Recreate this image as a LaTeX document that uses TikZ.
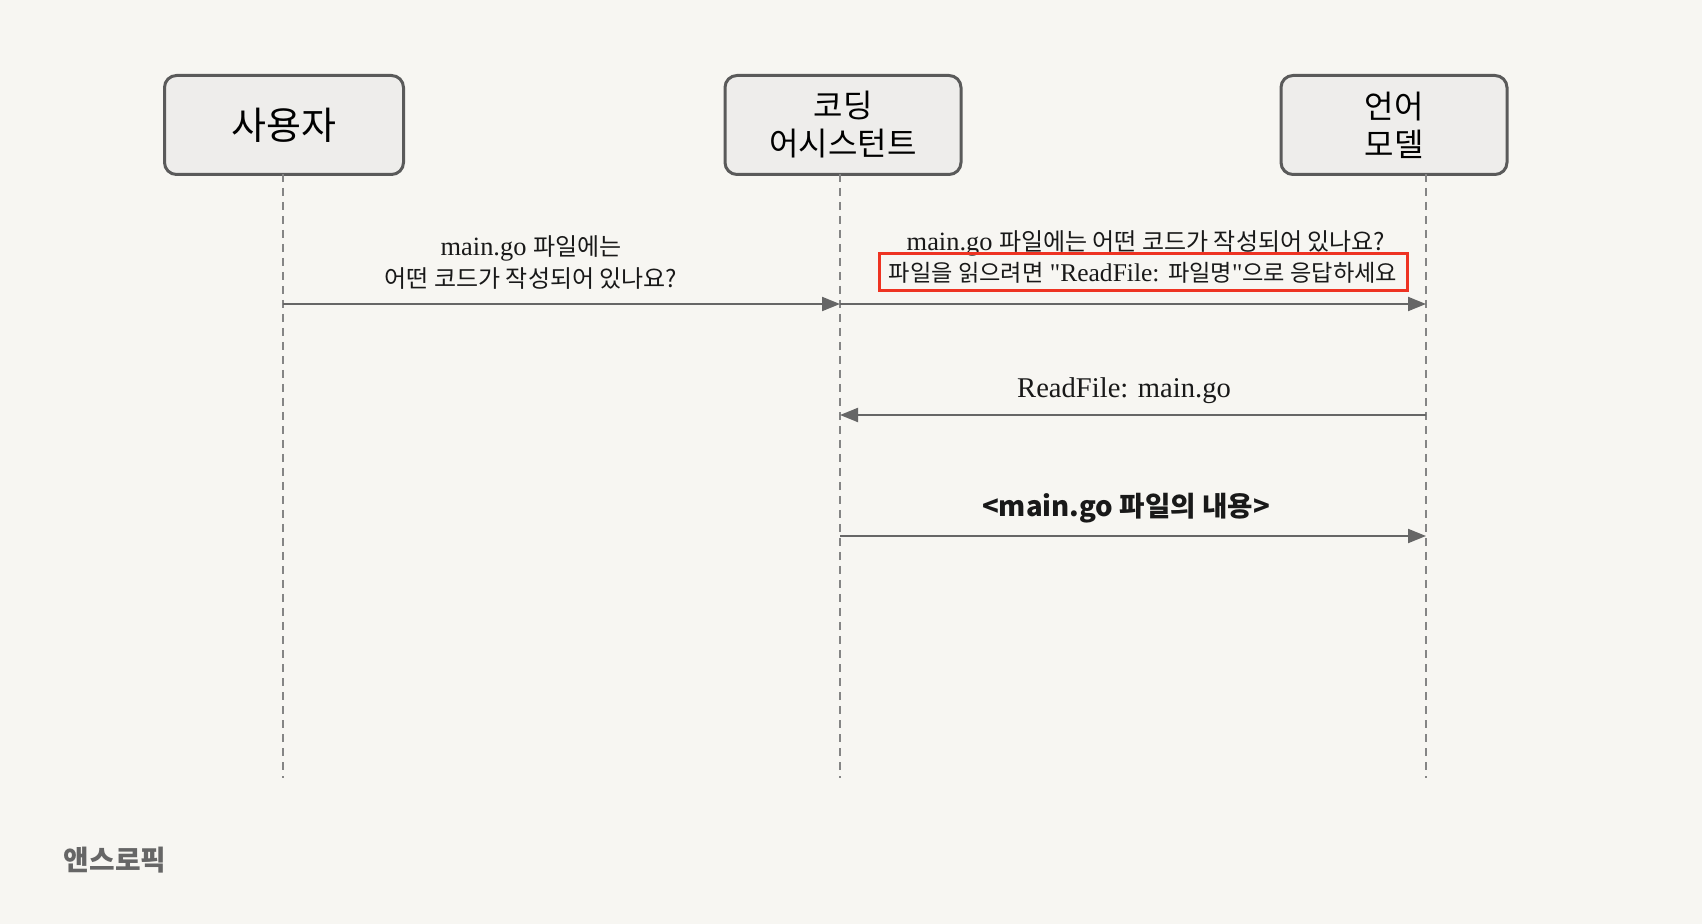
\documentclass[tikz,border=0pt]{standalone}
\usepackage{fontspec}
\usepackage{tikz}
\usetikzlibrary{arrows.meta}
\setmainfont[Scale=1.1]{Liberation Serif}
\newfontfamily\kr{Noto Sans CJK KR}

\definecolor{paper}{HTML}{F7F6F2}
\definecolor{boxfill}{HTML}{EEEDEB}
\definecolor{boxline}{HTML}{5A5A5A}
\definecolor{msgline}{HTML}{666666}
\definecolor{hilite}{HTML}{EE3322}

\begin{document}
\begin{tikzpicture}[x=0.5pt, y=-0.5pt, semithick]
  \tikzstyle{actor}=[fill=boxfill,draw=boxline,line width=1.5pt,rounded corners=6pt,text=black,align=center,inner sep=0pt]
  \tikzstyle{lifeline}=[draw=msgline!80,line width=0.6pt,dash pattern=on 4pt off 3pt]
  \tikzstyle{msg}=[-{Triangle[length=9pt,width=7pt]},draw=msgline,line width=1pt]
  \tikzstyle{label}=[text=black!90,align=center,inner sep=0pt,font=\fontsize{12}{16}\selectfont]

  \useasboundingbox[fill=paper] (0,0) rectangle (1702,924);

  % actors
  \node[actor,minimum width=119.5pt,minimum height=49.5pt,font=\kr\fontsize{19}{22}\selectfont] (user) at (284,125)
        {사용자};
  \node[actor,minimum width=118pt,minimum height=49.5pt,font=\kr\fontsize{16}{19}\selectfont] (assist) at (843,125)
        {코딩\\어시스턴트};
  \node[actor,minimum width=113pt,minimum height=49.5pt,font=\kr\fontsize{16}{19}\selectfont] (model) at (1394,125)
        {언어\\모델};

  % lifelines
  \coordinate (u0) at (283,174);  \coordinate (u9) at (283,778);
  \coordinate (a0) at (840,174);  \coordinate (a9) at (840,778);
  \coordinate (m0) at (1426,174); \coordinate (m9) at (1426,778);
  \path[lifeline] (u0) -- (u9);
  \path[lifeline] (a0) -- (a9);
  \path[lifeline] (m0) -- (m9);

  % message points
  \coordinate (u1) at (283,304);
  \coordinate (a1) at (840,304);
  \coordinate (m1) at (1426,304);
  \coordinate (a2) at (840,415);
  \coordinate (m2) at (1426,415);
  \coordinate (a3) at (840,536);
  \coordinate (m3) at (1426,536);

  \path (u1) edge[msg] node {} (a1);
  \path (a1) edge[msg] node {} (m1);
  \path (m2) edge[msg] node {} (a2);
  \path (a3) edge[msg] node {} (m3);

  % labels
  \node[label] (ask) at (531,263) {main.go {\kr 파일에는}\\{\kr 어떤 코드가 작성되어 있나요?}};
  \node[label] (prompt) at (1146,243) {main.go {\kr 파일에는 어떤 코드가 작성되어 있나요?}};
  \node[label,font=\fontsize{11.6}{16}\selectfont,draw=hilite,line width=1.5pt,minimum width=264pt,minimum height=18.5pt] (hint) at (1143,272.5)
        {{\kr 파일을 읽으려면} \textquotedbl ReadFile: {\kr 파일명}\textquotedbl{\kr 으로 응답하세요}};
  \node[label,font=\fontsize{13}{15}\selectfont] (call) at (1124,391) {ReadFile: main.go};
  \node[label,font=\kr\bfseries\fontsize{13.8}{16}\selectfont] (result) at (1126,508) {<main.go 파일의 내용>};

  \node[text=black!60,font=\kr\bfseries\fontsize{13.9}{16}\selectfont,inner sep=0pt] (logo) at (115,860) {앤스로픽};
\end{tikzpicture}
\end{document}
